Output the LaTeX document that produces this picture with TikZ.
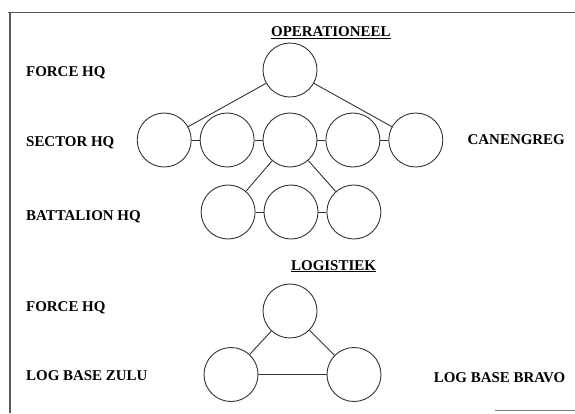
\documentclass[tikz,border=0pt]{standalone}
\usepackage{fontspec}
\setmainfont{Liberation Serif}
\usetikzlibrary{positioning}

\begin{document}
\begin{tikzpicture}
            [x=1bp, y=-1bp,
            font=\fontsize{15}{18}\selectfont\bfseries,
            knoop/.style={circle, minimum size=54bp, inner sep=0pt,
            draw=black!80, line width=0.9pt},
            niveau/.style={inner sep=0pt, anchor=base west},
            rechts/.style={inner sep=0pt, anchor=base east},
            titel/.style={inner sep=0pt, anchor=base west},
            verbinding/.style={draw=black!80, line width=0.9pt},
            node distance=8bp]
            \useasboundingbox (0,0) rectangle (575,413);
            % kader
            \draw[black!65, line width=1.6pt] (8,12.5) -- (575,12.5);
            \draw[black!65, line width=1.2pt] (10,12.5) -- (10,413);
            \draw[black!50, line width=1.2pt] (495,410.5) -- (575,410.5);
            % operationeel
            \node[titel] (oper) at (271,36.5) {\underline{OPERATIONEEL}};
            \node[knoop] (force) at (290,70) {};
            \node[knoop] (sec3) at (290,140) {};
            \node[knoop, left=of sec3] (sec2) {};
            \node[knoop, left=of sec2] (sec1) {};
            \node[knoop, right=of sec3] (sec4) {};
            \node[knoop, right=of sec4] (sec5) {};
            \node[knoop] (bat2) at (291,212) {};
            \node[knoop, left=of bat2] (bat1) {};
            \node[knoop, right=of bat2] (bat3) {};
            \draw[verbinding] (force) -- (sec1);
            \draw[verbinding] (force) -- (sec5);
            \draw[verbinding] (sec1) -- (sec2);
            \draw[verbinding] (sec2) -- (sec3);
            \draw[verbinding] (sec3) -- (sec4);
            \draw[verbinding] (sec4) -- (sec5);
            \draw[verbinding] (sec3) -- (bat1);
            \draw[verbinding] (sec3) -- (bat3);
            \draw[verbinding] (bat1) -- (bat2);
            \draw[verbinding] (bat2) -- (bat3);
            % logistiek
            \node[titel] (logi) at (291,270) {\underline{LOGISTIEK}};
            \node[knoop] (lforce) at (290,311) {};
            \node[knoop] (zulu) at (231,374.5) {};
            \node[knoop] (bravo) at (354,374.5) {};
            \draw[verbinding] (lforce) -- (zulu);
            \draw[verbinding] (lforce) -- (bravo);
            \draw[verbinding] (zulu) -- (bravo);
            % niveaus
            \node[niveau] (nforce) at (26,76.5) {FORCE HQ};
            \node[niveau] (nsector) at (26,146.5) {SECTOR HQ};
            \node[niveau] (nbat) at (26,220) {BATTALION HQ};
            \node[niveau] (nlforce) at (26,311.5) {FORCE HQ};
            \node[niveau] (nzulu) at (26,380) {LOG BASE ZULU};
            \node[rechts] (ncan) at (565,144.5) {CANENGREG};
            \node[rechts] (nbravo) at (565.5,382) {LOG BASE BRAVO};
\end{tikzpicture}
\end{document}
